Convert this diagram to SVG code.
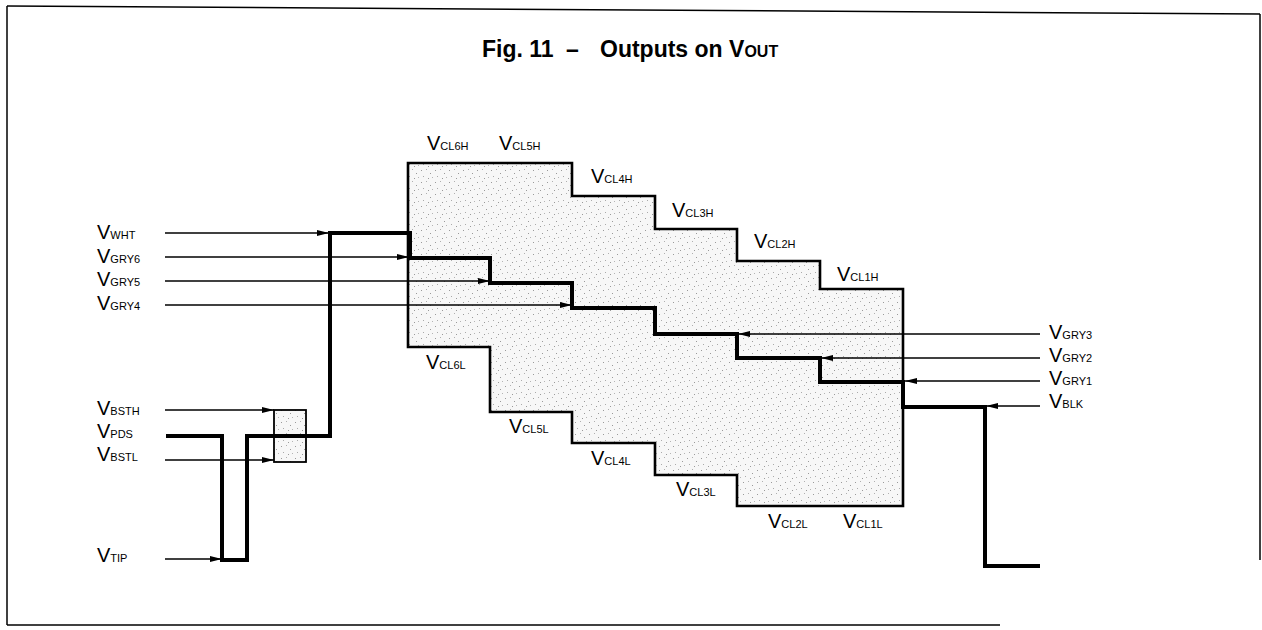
<svg xmlns="http://www.w3.org/2000/svg" width="1262" height="630" viewBox="0 0 1262 630">
  <defs>
    <pattern id="stipple" width="14" height="12" patternUnits="userSpaceOnUse">
      <rect width="14" height="12" fill="#f7f7f7"/>
      <rect x="1" y="2" width="1" height="1" fill="#9a9a9a"/>
      <rect x="6" y="1" width="1" height="1" fill="#b0b0b0"/>
      <rect x="10" y="5" width="1" height="1" fill="#9a9a9a"/>
      <rect x="3" y="8" width="1" height="1" fill="#aaaaaa"/>
      <rect x="8" y="10" width="1" height="1" fill="#9a9a9a"/>
      <rect x="12" y="9" width="1" height="1" fill="#b5b5b5"/>
    </pattern>
    <marker id="arr" markerWidth="13" markerHeight="8" refX="12" refY="4" orient="auto" markerUnits="userSpaceOnUse">
      <path d="M0,1 L12,4 L0,7 Z" fill="#000"/>
    </marker>
    <style>
      .lbl { font-family: "Liberation Sans", Arial, sans-serif; fill: #000; }
      .v { font-size: 20px; }
      .s { font-size: 11px; }
      .thin { stroke: #000; stroke-width: 1.7; fill: none; marker-end: url(#arr); }
      .thick { stroke: #000; stroke-width: 4; fill: none; stroke-linejoin: miter; }
      .frame { stroke: #000; stroke-width: 1.5; fill: none; }
    </style>
  </defs>
  <rect width="1262" height="630" fill="#fff"/>

  <g id="frame">
    <line class="frame" x1="7" y1="6" x2="1260" y2="14"/>
    <line class="frame" x1="7" y1="6" x2="7" y2="625"/>
    <line class="frame" x1="7" y1="625" x2="1000" y2="625"/>
    <line class="frame" x1="1260" y1="14" x2="1260" y2="560"/>
  </g>

  <g id="title">
    <text class="lbl" font-weight="bold" font-size="23" y="57"><tspan x="482">Fig. 11</tspan><tspan x="566">–</tspan><tspan x="600">Outputs on V</tspan><tspan font-size="16">OUT</tspan></text>
  </g>

  <g id="clamp-region">
    <path d="M408,163 H572 V196 H655 V229 H737 V261 H820 V289 H903 V506 H737 V475 H655 V443 H572 V412 H490 V347 H408 Z" fill="url(#stipple)" stroke="#000" stroke-width="2.6"/>
  </g>

  <g id="burst-box">
    <rect x="274" y="410" width="32" height="52" fill="url(#stipple)" stroke="#000" stroke-width="1.8"/>
  </g>

  <g id="connectors">
    <line class="thin" x1="165" y1="233" x2="329" y2="233"/>
    <line class="thin" x1="165" y1="257" x2="409" y2="257"/>
    <line class="thin" x1="165" y1="281" x2="490" y2="281"/>
    <line class="thin" x1="165" y1="305" x2="572" y2="305"/>
    <line class="thin" x1="165" y1="410" x2="274" y2="410"/>
    <line class="thin" x1="165" y1="460" x2="274" y2="460"/>
    <line class="thin" x1="165" y1="559" x2="222" y2="559"/>
    <line class="thin" x1="1040" y1="334" x2="738" y2="334"/>
    <line class="thin" x1="1040" y1="358" x2="821" y2="358"/>
    <line class="thin" x1="1040" y1="381" x2="905" y2="381"/>
    <line class="thin" x1="1040" y1="406" x2="986" y2="406"/>
    <path class="thick" d="M166,436 H222 V560 H247 V436 H330 V233 H410 V258 H490 V283 H572 V308 H655 V334 H737 V358 H820 V382 H903 V407 H985 V566 H1040"/>
  </g>

  <g id="labels-left">
    <text class="lbl" x="97" y="239"><tspan class="v">V</tspan><tspan class="s">WHT</tspan></text>
    <text class="lbl" x="97" y="263"><tspan class="v">V</tspan><tspan class="s">GRY6</tspan></text>
    <text class="lbl" x="97" y="286"><tspan class="v">V</tspan><tspan class="s">GRY5</tspan></text>
    <text class="lbl" x="97" y="310"><tspan class="v">V</tspan><tspan class="s">GRY4</tspan></text>
    <text class="lbl" x="97" y="415"><tspan class="v">V</tspan><tspan class="s">BSTH</tspan></text>
    <text class="lbl" x="97" y="438"><tspan class="v">V</tspan><tspan class="s">PDS</tspan></text>
    <text class="lbl" x="97" y="461"><tspan class="v">V</tspan><tspan class="s">BSTL</tspan></text>
    <text class="lbl" x="97" y="562"><tspan class="v">V</tspan><tspan class="s">TIP</tspan></text>
  </g>

  <g id="labels-right">
    <text class="lbl" x="1049" y="339"><tspan class="v">V</tspan><tspan class="s">GRY3</tspan></text>
    <text class="lbl" x="1049" y="362"><tspan class="v">V</tspan><tspan class="s">GRY2</tspan></text>
    <text class="lbl" x="1049" y="385"><tspan class="v">V</tspan><tspan class="s">GRY1</tspan></text>
    <text class="lbl" x="1049" y="408"><tspan class="v">V</tspan><tspan class="s">BLK</tspan></text>
  </g>

  <g id="labels-clamp">
    <text class="lbl" x="427" y="150"><tspan class="v">V</tspan><tspan class="s">CL6H</tspan></text>
    <text class="lbl" x="499" y="150"><tspan class="v">V</tspan><tspan class="s">CL5H</tspan></text>
    <text class="lbl" x="591" y="183"><tspan class="v">V</tspan><tspan class="s">CL4H</tspan></text>
    <text class="lbl" x="672" y="217"><tspan class="v">V</tspan><tspan class="s">CL3H</tspan></text>
    <text class="lbl" x="754" y="248"><tspan class="v">V</tspan><tspan class="s">CL2H</tspan></text>
    <text class="lbl" x="837" y="281"><tspan class="v">V</tspan><tspan class="s">CL1H</tspan></text>
    <text class="lbl" x="426" y="369"><tspan class="v">V</tspan><tspan class="s">CL6L</tspan></text>
    <text class="lbl" x="509" y="433"><tspan class="v">V</tspan><tspan class="s">CL5L</tspan></text>
    <text class="lbl" x="591" y="465"><tspan class="v">V</tspan><tspan class="s">CL4L</tspan></text>
    <text class="lbl" x="676" y="496"><tspan class="v">V</tspan><tspan class="s">CL3L</tspan></text>
    <text class="lbl" x="768" y="528"><tspan class="v">V</tspan><tspan class="s">CL2L</tspan></text>
    <text class="lbl" x="843" y="528"><tspan class="v">V</tspan><tspan class="s">CL1L</tspan></text>
  </g>
</svg>
